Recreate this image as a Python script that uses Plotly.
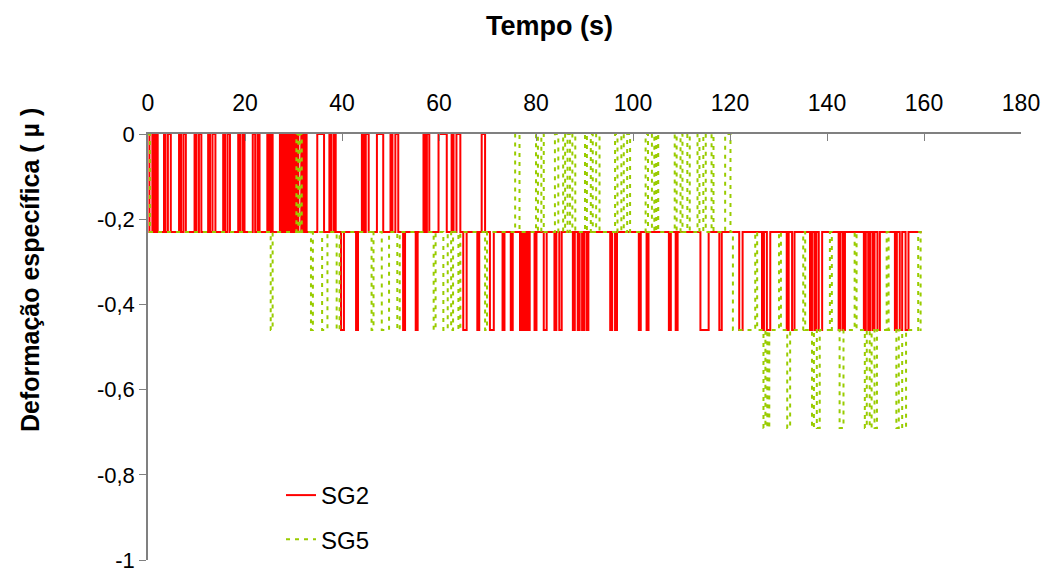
import plotly.graph_objects as go

# ---- data (step series: value holds until next time) ----
sg2_t = [0, 0.3,
         0.9, 1.2, 1.6, 2.0,
         3.3, 3.6, 4.1, 4.7,
         6.4, 6.8, 7.3, 7.8,
         9.6, 10.0, 10.5, 11.0,
         12.4, 12.8, 13.3, 13.9,
         15.5, 15.9, 16.4, 16.9,
         18.6, 19.0, 19.5, 19.9,
         21.6, 22.1, 22.6, 23.0,
         24.6, 25.0, 25.4, 25.7,
         27.2, 27.5, 27.9, 28.2, 28.6, 28.9, 29.3, 29.6, 30.0, 30.3, 30.6, 31.0,
         31.6, 31.9, 32.3, 32.7,
         34.9, 36.3,
         37.4, 37.8, 38.3, 38.7,
         39.8, 40.4,
         42.9, 43.3,
         44.1, 44.5, 44.9, 45.5,
         47.2, 48.5,
         50.0, 50.4, 51.0, 51.6,
         52.6, 53.0,
         55.2, 55.6,
         56.8, 57.2, 57.5, 58.0,
         59.9, 61.6,
         62.6, 63.0, 63.6, 64.4,
         65.0, 65.7,
         67.9, 68.3, 68.8, 69.5,
         70.5, 71.3,
         73.1, 73.5,
         74.8, 75.2,
         76.7, 77.1, 77.5, 77.9,
         78.3, 78.7, 79.7, 80.1,
         81.6, 82.2,
         83.8, 84.2, 84.8, 85.3,
         87.6, 88.0, 88.6, 89.0, 89.5, 89.9, 90.4, 90.8,
         95.3, 95.7, 96.3, 96.7,
         101.2, 101.6, 102.8, 103.2,
         107.4, 107.8, 108.8, 109.2,
         113.9, 115.6,
         117.8, 118.3,
         121.9, 122.6,
         126.6, 127.0, 127.6, 128.3,
         131.7, 132.1, 132.8, 133.3,
         136.5, 136.9, 137.4, 137.8, 138.3, 139.0,
         142.4, 142.8, 143.3, 143.7,
         147.6, 148.0, 148.5, 148.9, 149.4, 149.8, 150.4, 150.9,
         154.0, 154.4, 155.0, 155.5, 156.2, 156.8,
         159.5]
sg2_v = [0, -0.23,
         0, -0.23, 0, -0.23,
         0, -0.23, 0, -0.23,
         0, -0.23, 0, -0.23,
         0, -0.23, 0, -0.23,
         0, -0.23, 0, -0.23,
         0, -0.23, 0, -0.23,
         0, -0.23, 0, -0.23,
         0, -0.23, 0, -0.23,
         0, -0.23, 0, -0.23,
         0, -0.23, 0, -0.23, 0, -0.23, 0, -0.23, 0, -0.23, 0, -0.23,
         0, -0.23, 0, -0.23,
         0, -0.23,
         0, -0.23, 0, -0.23,
         -0.46, -0.23,
         -0.46, -0.23,
         0, -0.23, 0, -0.23,
         0, -0.23,
         0, -0.23, 0, -0.23,
         -0.46, -0.23,
         -0.46, -0.23,
         0, -0.23, 0, -0.23,
         0, -0.23,
         0, -0.23, 0, -0.23,
         -0.46, -0.23,
         -0.46, -0.23, 0, -0.23,
         -0.46, -0.23,
         -0.46, -0.23,
         -0.46, -0.23,
         -0.46, -0.23, -0.46, -0.23,
         -0.46, -0.23, -0.46, -0.23,
         -0.46, -0.23,
         -0.46, -0.23, -0.46, -0.23,
         -0.46, -0.23, -0.46, -0.23, -0.46, -0.23, -0.46, -0.23,
         -0.46, -0.23, -0.46, -0.23,
         -0.46, -0.23, -0.46, -0.23,
         -0.46, -0.23, -0.46, -0.23,
         -0.46, -0.23,
         -0.46, -0.23,
         -0.46, -0.23,
         -0.46, -0.23, -0.46, -0.23,
         -0.46, -0.23, -0.46, -0.23,
         -0.46, -0.23, -0.46, -0.23, -0.46, -0.23,
         -0.46, -0.23, -0.46, -0.23,
         -0.46, -0.23, -0.46, -0.23, -0.46, -0.23, -0.46, -0.23,
         -0.46, -0.23, -0.46, -0.23, -0.46, -0.23,
         -0.23]

sg5_t = [0, 0.4,
         25.3, 25.7,
         30.6, 31.0, 31.3, 31.7,
         33.6, 34.0,
         35.9, 37.0,
         38.9, 39.5,
         46.1, 46.5,
         48.2, 49.7,
         51.4, 51.9,
         58.9, 59.3,
         60.9, 61.8,
         62.5, 62.9,
         64.0, 64.4,
         69.5, 69.9,
         75.7, 76.6,
         80.0, 80.4, 81.1, 81.6,
         83.9, 84.6,
         85.6, 86.0, 86.5, 87.0, 87.5, 88.1,
         90.1, 90.5, 91.3, 91.7, 92.4, 93.1,
         96.3, 96.8, 97.6, 98.1, 98.8, 99.4,
         102.6, 103.1, 103.9, 104.4, 104.8, 105.2,
         108.6, 109.0, 109.8, 110.2, 111.2, 111.7,
         113.3, 113.7, 114.5, 115.0,
         116.2, 116.6,
         119.0, 120.1, 120.6,
         125.2, 125.6,
         126.9, 127.3, 127.7, 128.1,
         130.1, 130.5,
         131.8, 132.4,
         135.1, 135.5,
         136.9, 137.3, 137.9, 138.5,
         140.6, 141.0,
         142.6, 143.4,
         145.7, 146.1,
         147.8, 148.2, 148.8, 149.2, 149.8, 150.3,
         152.3, 152.7,
         154.3, 154.8, 155.5, 156.3,
         158.8, 159.3,
         159.5]
sg5_v = [0, -0.23,
         -0.46, -0.23,
         0, -0.23, 0, -0.23,
         -0.46, -0.23,
         -0.46, -0.23,
         -0.46, -0.23,
         -0.46, -0.23,
         -0.46, -0.23,
         -0.46, -0.23,
         -0.46, -0.23,
         -0.46, -0.23,
         -0.46, -0.23,
         -0.46, -0.23,
         -0.46, -0.23,
         0, -0.23,
         0, -0.23, 0, -0.23,
         0, -0.23,
         0, -0.23, 0, -0.23, 0, -0.23,
         0, -0.23, 0, -0.23, 0, -0.23,
         0, -0.23, 0, -0.23, 0, -0.23,
         0, -0.23, 0, -0.23, 0, -0.23,
         0, -0.23, 0, -0.23, 0, -0.23,
         0, -0.23, 0, -0.23,
         0, -0.23,
         0, -0.23, -0.46,
         -0.23, -0.46,
         -0.69, -0.46, -0.69, -0.46,
         -0.23, -0.46,
         -0.69, -0.46,
         -0.23, -0.46,
         -0.69, -0.46, -0.69, -0.46,
         -0.23, -0.46,
         -0.69, -0.46,
         -0.23, -0.46,
         -0.69, -0.46, -0.69, -0.46, -0.69, -0.46,
         -0.23, -0.46,
         -0.69, -0.46, -0.69, -0.46,
         -0.23, -0.46,
         -0.46]

x_ticks = [0, 20, 40, 60, 80, 100, 120, 140, 160, 180]
y_ticks = [0, -0.2, -0.4, -0.6, -0.8, -1]
y_tick_labels = ["0", "-0,2", "-0,4", "-0,6", "-0,8", "-1"]

FONT = "Liberation Sans, Arial, sans-serif"

# the page body adds an 8px offset; target positions are in screen pixels
OFF = 8
FW, FH = 1057, 573
L, R, T, B = 148 - OFF, 1021 - OFF, 134 - OFF, 560 - OFF
W, H = R - L, B - T

fig = go.Figure()
fig.add_trace(go.Scatter(x=sg2_t, y=sg2_v, mode="lines", name="SG2",
                         line=dict(color="#FF0000", width=2, shape="hv"),
                         legendgroup="a"))
fig.add_trace(go.Scatter(x=sg5_t, y=sg5_v, mode="lines", name="SG5",
                         line=dict(color="#99CC00", width=2, shape="hv", dash="4px,5px"),
                         legendgroup="b"))

fig.update_layout(
    width=FW, height=FH,
    margin=dict(l=L, r=FW - R, t=T, b=FH - B, autoexpand=False),
    paper_bgcolor="white", plot_bgcolor="white",
    font=dict(family=FONT, size=22, color="black"),
    showlegend=True,
    legend=dict(x=(281 - OFF - L) / W, y=(B - (473 - OFF)) / H,
                xanchor="left", yanchor="top",
                bgcolor="rgba(0,0,0,0)", font=dict(size=24),
                traceorder="grouped", tracegroupgap=10),
    xaxis=dict(range=[0, 180], side="top", tickvals=x_ticks,
               showgrid=False, zeroline=False, showline=True,
               linecolor="#808080", linewidth=1.5,
               ticks="inside", ticklen=7, tickcolor="#808080",
               tickfont=dict(size=23), ticklabelstandoff=12,
               automargin=False, fixedrange=True),
    yaxis=dict(range=[-1, 0], tickvals=y_ticks, ticktext=y_tick_labels,
               showgrid=False, zeroline=False, showline=True,
               linecolor="#808080", linewidth=1.5,
               ticks="outside", ticklen=7, tickcolor="#808080",
               tickfont=dict(size=22), automargin=False, fixedrange=True),
    annotations=[
        dict(text="<b>Tempo (s)</b>", xref="paper", yref="paper",
             x=(549 - OFF - L) / W, y=(B - (26 - OFF)) / H,
             xanchor="center", yanchor="middle",
             showarrow=False, font=dict(size=27, family=FONT)),
        dict(text="<b>Deformação específica ( µ )</b>", xref="paper", yref="paper",
             x=(30 - OFF - L) / W, y=(B - (270 - OFF)) / H, textangle=-90,
             xanchor="center", yanchor="middle",
             showarrow=False, font=dict(size=25, family=FONT)),
    ],
)

fig.write_html("out.html")
